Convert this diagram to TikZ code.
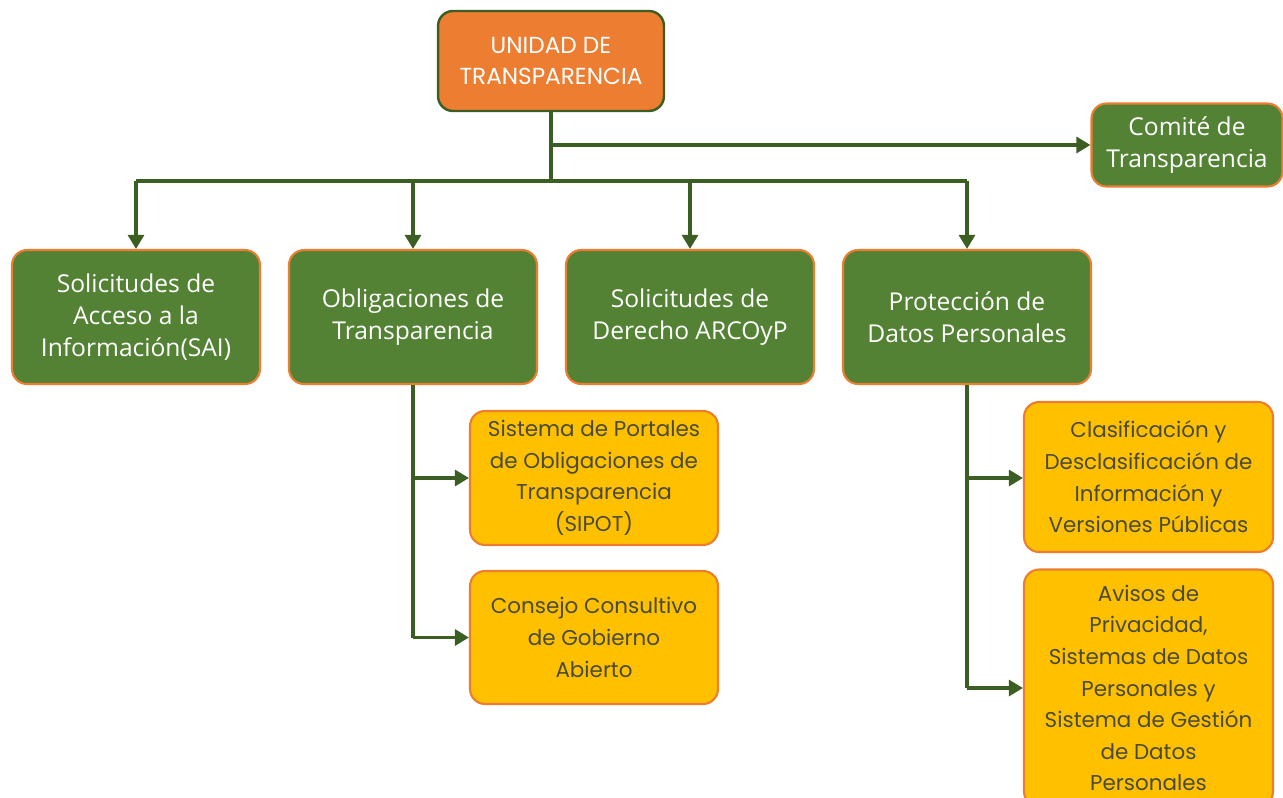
\documentclass[tikz,border=0pt]{standalone}
\usepackage{fontspec}
\setmainfont{Open Sans}
\newfontfamily\popfont{Poppins}
\usetikzlibrary{arrows.meta}
\definecolor{ogreen}{HTML}{548235}
\definecolor{dgreen}{HTML}{3B5F23}
\definecolor{oorange}{HTML}{ED7D31}
\definecolor{oyellow}{HTML}{FFC000}
\definecolor{ytext}{HTML}{4A4A3A}
\begin{document}
\begin{tikzpicture}[x=0.02cm,y=-0.02cm,
  box/.style={rounded corners=0.3cm, align=center, inner sep=0pt,
    font=\fontsize{14pt}{18pt}\selectfont},
  topbox/.style={box, fill=oorange, draw=dgreen, line width=1.4pt, text=white,
    font=\popfont\fontsize{13.2pt}{18pt}\selectfont},
  gbox/.style={box, fill=ogreen, draw=oorange, line width=1.2pt, text=white},
  ybox/.style={box, fill=oyellow, draw=oorange, line width=1.2pt, text=ytext,
    font=\popfont\fontsize{12.2pt}{18pt}\selectfont},
  conn/.style={draw=dgreen, line width=2pt},
  arr/.style={conn, -{Triangle[length=8pt,width=9pt]}}]
\useasboundingbox (0,0) rectangle (1283,797);
\fill[white] (0,0) rectangle (1283,797);
% nodes
\node[topbox, minimum width=4.52cm, minimum height=2.0cm] (ut) at (551,61) {UNIDAD DE\\TRANSPARENCIA};
\node[gbox, minimum width=3.82cm, minimum height=1.66cm] (ct) at (1187,145) {Comité de\\Transparencia};
\node[gbox, minimum width=4.96cm, minimum height=2.68cm] (sai) at (136,317) {Solicitudes de\\Acceso a la\\Información(SAI)};
\node[gbox, minimum width=4.96cm, minimum height=2.68cm] (ot) at (413,317) {Obligaciones de\\Transparencia};
\node[gbox, minimum width=4.96cm, minimum height=2.68cm] (arco) at (690,317) {Solicitudes de\\Derecho ARCOyP};
\node[gbox, minimum width=4.96cm, minimum height=2.68cm] (pdp) at (967,317) {Protección de\\Datos Personales};
\node[ybox, minimum width=4.96cm, minimum height=2.68cm] (sipot) at (594,478) {Sistema de Portales\\de Obligaciones de\\Transparencia\\(SIPOT)};
\node[ybox, minimum width=4.96cm, minimum height=2.66cm] (ccga) at (594,637.5) {Consejo Consultivo\\de Gobierno\\Abierto};
\node[ybox, minimum width=4.98cm, minimum height=3.0cm] (cdi) at (1148.5,477) {Clasificación y\\Desclasificación de\\Información y\\Versiones Públicas};
\node[ybox, minimum width=4.98cm, minimum height=4.74cm] (avp) at (1148.5,688) {Avisos de\\Privacidad,\\Sistemas de Datos\\Personales y\\Sistema de Gestión\\de Datos\\Personales};
% coordinates
\coordinate (j1) at (551,145);
\coordinate (j2) at (551,181);
\coordinate (hl) at (136,181);
\coordinate (hr) at (967,181);
% connectors
\draw[conn] (ut.south) -- (j2);
\draw[arr] (j1) -- (ct.west);
\draw[conn] (hl) -- (hr);
\draw[arr] (hl) -- (sai.north);
\draw[arr] (413,181) -- (ot.north);
\draw[arr] (690,181) -- (arco.north);
\draw[arr] (hr) -- (pdp.north);
\draw[conn] (ot.south) -- (413,637.5);
\draw[arr] (413,478) -- (sipot.west);
\draw[arr] (413,637.5) -- (ccga.west);
\draw[conn] (pdp.south) -- (967,688);
\draw[arr] (967,478) -- (cdi.west |- 967,478);
\draw[arr] (967,688) -- (avp.west);
\end{tikzpicture}
\end{document}
